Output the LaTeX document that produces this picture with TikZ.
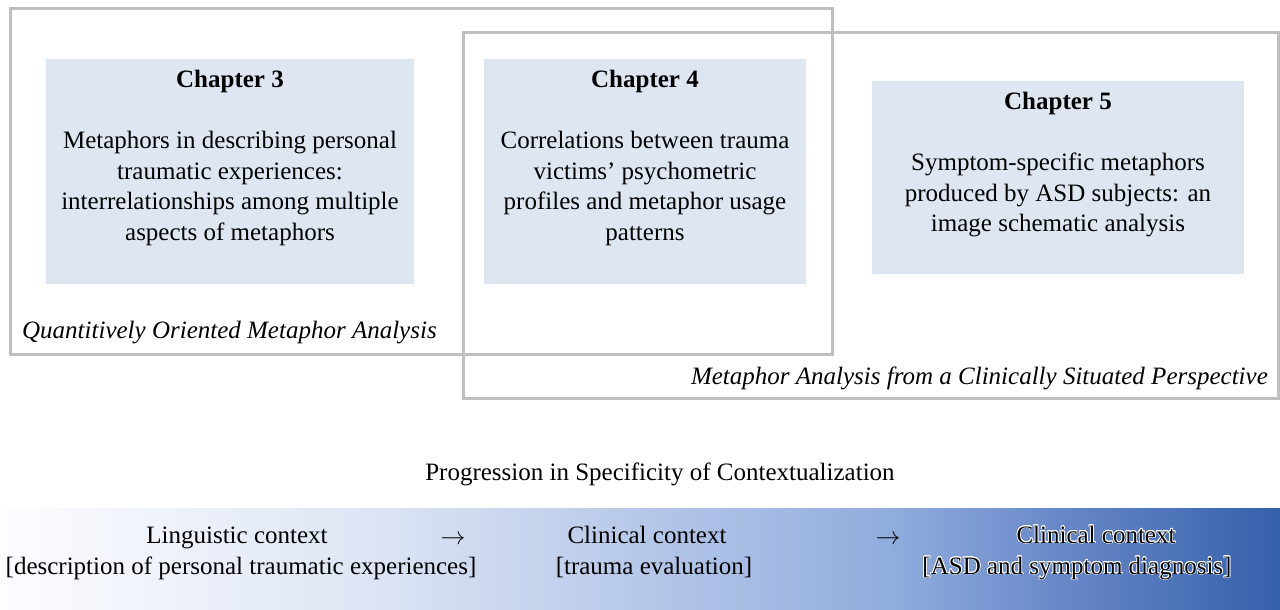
\documentclass[tikz,border=0pt]{standalone}
\usepackage{fontspec}
\setmainfont{Liberation Serif}
\usepackage{contour}
\contourlength{0.7pt}
\definecolor{frame}{HTML}{BFBFBF}
\definecolor{chapfill}{HTML}{DEE6F2}
\definecolor{gA}{HTML}{FCFDFF}
\definecolor{gB}{HTML}{DCE4F4}
\definecolor{gC}{HTML}{B6C8E9}
\definecolor{gD}{HTML}{90ACDD}
\definecolor{gE}{HTML}{6485C6}
\definecolor{gF}{HTML}{3560AA}
\pgfdeclarehorizontalshading{bar}{100bp}{color(0bp)=(gA); color(25bp)=(gA); color(40bp)=(gB); color(50bp)=(gC); color(60bp)=(gD); color(67bp)=(gE); color(75bp)=(gF); color(100bp)=(gF)}
\tikzset{
  group/.style={draw=frame, line width=3pt},
  chapbox/.style={fill=chapfill, draw=none},
  chaptext/.style={anchor=north, align=center, inner sep=0pt, font=\fontsize{25}{30.5}\selectfont},
  lbl/.style={inner sep=0pt, font=\fontsize{25}{30}\selectfont\itshape},
  bartext/.style={inner sep=0pt, anchor=base, font=\fontsize{25}{31}\selectfont},
  arr/.style={inner sep=0pt, anchor=base, font=\fontsize{25}{30}\selectfont}
}
\begin{document}
\begin{tikzpicture}[x=1pt,y=-1pt]
\useasboundingbox (0,0) rectangle (1280,610);
% group frames
\draw[group] (10,9) rectangle (832,354);
\draw[group] (463,33) rectangle (1278,398);
% chapter boxes
\fill[chapbox] (46,59) rectangle (414,284);
\fill[chapbox] (484,59) rectangle (806,284);
\fill[chapbox] (872,81) rectangle (1244,274);
\node[chaptext] (c3) at (230,70) {\textbf{Chapter 3}\\[30.5pt] Metaphors in describing personal\\ traumatic experiences:\\ interrelationships among multiple\\ aspects of metaphors};
\node[chaptext] (c4) at (645,70) {\textbf{Chapter 4}\\[30.5pt] Correlations between trauma\\ victims’ psychometric\\ profiles and metaphor usage\\ patterns};
\node[chaptext] (c5) at (1058,92) {\textbf{Chapter 5}\\[30.5pt] Symptom-specific metaphors\\ produced by ASD subjects: an\\ image schematic analysis};
\node[lbl, anchor=west] (q) at (22,333) {Quantitively Oriented Metaphor Analysis};
\node[lbl, anchor=east] (m) at (1268,378) {Metaphor Analysis from a Clinically Situated Perspective};
\node[bartext, anchor=center] (prog) at (660,474) {Progression in Specificity of Contextualization};
% gradient bar
\shade[shading=bar] (0,508) rectangle (1280,610);
\node[bartext] (l1a) at (237,543) {Linguistic context};
\node[bartext] (l1b) at (241,574) {[description of personal traumatic experiences]};
\node[arr] (a1) at (453,544) {$\rightarrow$};
\node[bartext] (l2a) at (647,543) {Clinical context};
\node[bartext] (l2b) at (654,574) {[trauma evaluation]};
\node[arr] (a2) at (888,544) {$\rightarrow$};
\node[bartext] (l3a) at (1096,543) {\contour{white}{Clinical context}};
\node[bartext] (l3b) at (1077,574) {\contour{white}{[ASD and symptom diagnosis]}};
\end{tikzpicture}
\end{document}
